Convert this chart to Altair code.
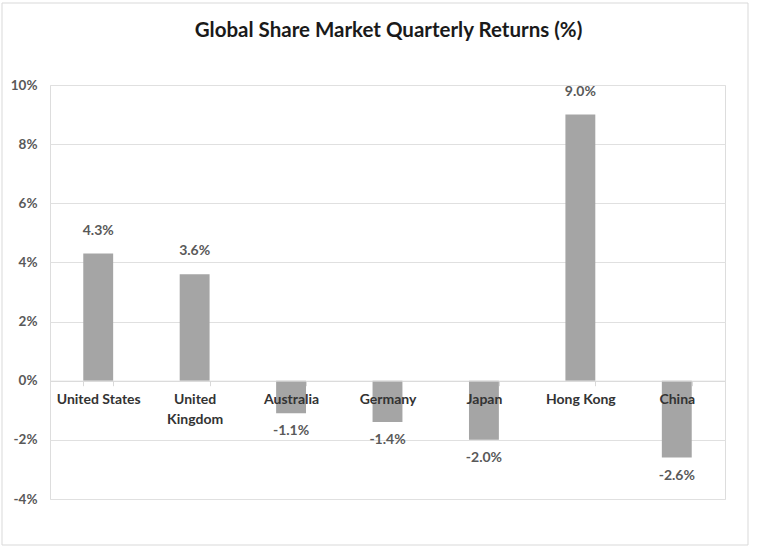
import altair as alt
import pandas as pd

countries = ["United States", "United Kingdom", "Australia", "Germany", "Japan", "Hong Kong", "China"]
returns = [4.3, 3.6, -1.1, -1.4, -2.0, 9.0, -2.6]
y_ticks = [-4, -2, 0, 2, 4, 6, 8, 10]
title_text = "Global Share Market Quarterly Returns (%)"

df = pd.DataFrame({"country": countries, "ret": returns})
df["label"] = [f"{v:.1f}%" for v in returns]

FONT = "Lato"
H = 414
W = 675

x_enc = alt.X(
    "country:N",
    sort=countries,
    scale=alt.Scale(paddingInner=0.69, paddingOuter=0.345),
    axis=alt.Axis(
        title=None,
        orient="bottom",
        offset=-H * 4 / 14,
        labelAngle=0,
        labelFont=FONT,
        labelFontSize=14,
        labelFontWeight="bold",
        labelColor="#333333",
        labelPadding=7,
        labelLineHeight=20,
        labelExpr="datum.label == 'United Kingdom' ? ['United', 'Kingdom'] : datum.label",
        domainColor="#d9d9d9",
        tickColor="#d9d9d9",
        tickSize=5,
        tickBand="extent",
        zindex=1,
        grid=False,
    ),
)

y_enc = alt.Y(
    "ret:Q",
    scale=alt.Scale(domain=[-4, 10], nice=False, zero=False),
    axis=alt.Axis(
        title=None,
        values=y_ticks,
        labelExpr="datum.value + '%'",
        labelFont=FONT,
        labelFontSize=13.5,
        labelFontWeight="bold",
        labelColor="#595959",
        labelPadding=13,
        domain=False,
        ticks=False,
        gridColor="#e0e0e0",
        zindex=0,
    ),
)

base = alt.Chart(df)

bars = base.mark_bar(color="#a5a5a5").encode(x=x_enc, y=y_enc)

pos_labels = base.transform_filter("datum.ret >= 0").mark_text(
    font=FONT, fontSize=14, fontWeight="bold", color="#595959", baseline="middle", dy=-23
).encode(x=alt.X("country:N", sort=countries), y="ret:Q", text="label:N")

neg_labels = base.transform_filter("datum.ret < 0").mark_text(
    font=FONT, fontSize=14, fontWeight="bold", color="#595959", baseline="middle", dy=18
).encode(x=alt.X("country:N", sort=countries), y="ret:Q", text="label:N")

one = pd.DataFrame({"a": [0]})

border = alt.Chart(one).mark_rect(
    fill=None, stroke="#d9d9d9", strokeWidth=1
).encode(
    x=alt.value(-48), x2=alt.value(698), y=alt.value(-82), y2=alt.value(460)
)

title = alt.Chart(one).mark_text(
    text=title_text, font=FONT, fontSize=20.5, fontWeight="bold", color="#1a1a1a",
    align="center", baseline="alphabetic"
).encode(x=alt.value(338.5), y=alt.value(-48.3))

chart = alt.layer(border, title, bars, pos_labels, neg_labels).properties(
    width=W,
    height=H,
    autosize=alt.AutoSizeParams(type="none"),
    padding={"left": 50, "top": 85, "right": 32, "bottom": 51},
).configure_view(stroke=None).configure(background="white")

chart.save("out.html", embed_options={"renderer": "svg", "actions": False})
